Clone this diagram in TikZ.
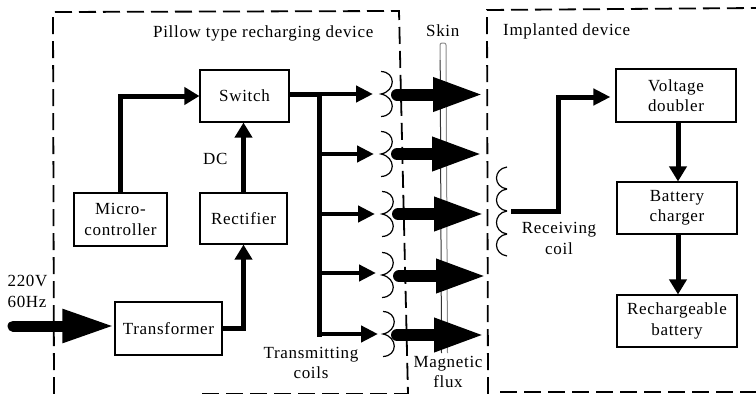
\documentclass[tikz,border=0pt]{standalone}
\usepackage{fontspec}
\setmainfont[LetterSpace=4]{Liberation Serif}
\usetikzlibrary{arrows.meta,calc}
\tikzset{
  x=1pt,y=-1pt,
  every node/.style={font=\fontsize{17}{20.5}\selectfont,inner sep=0pt,align=center},
  block/.style={draw=black,line width=1.1pt},
  small arrow/.style={line width=4.5pt,-{Triangle[length=17pt,width=16pt]}},
  big arrow/.style={line width=12pt,line cap=round,-{Triangle[length=51pt,width=31pt]}},
  feed/.style={line width=5pt,line join=miter},
  feed arrow/.style={feed,-{Triangle[length=15pt,width=17pt]}},
  coil/.style={line width=1.2pt},
  boundary/.style={line width=1.8pt,dash pattern=on 17pt off 7pt},
}
\begin{document}
\begin{tikzpicture}
\useasboundingbox (0,0) rectangle (756,394);
\fill[white] (0,0) rectangle (756,394);
\clip (0,0) rectangle (756,394);

% skin
\draw[line width=1pt,black!45,rounded corners=2pt] (447.5,353) -- (446,43) -- (440,43) -- (440.2,60);
\draw[line width=1pt,black!80] (440.2,60) -- (441.5,353);

% dashed boundaries
\draw[boundary] (54,394) -- (53,12) -- (399,11) -- (408,394);
\draw[boundary] (202,393.5) -- (408,393.5);
\draw[boundary] (488,394) -- (487,10) -- (756,8);
\draw[boundary] (500,392) -- (756,392);

% blocks
\node[block,minimum width=89pt,minimum height=52pt] (switch) at (244.5,96) {Switch};
\node[block,minimum width=87pt,minimum height=51pt] (rect) at (243.5,218.5) {Rectifier};
\node[block,minimum width=93pt,minimum height=53pt] (micro) at (120.5,219.5) {Micro-\\controller};
\node[block,minimum width=107pt,minimum height=53pt] (trans) at (168.5,328.5) {Transformer};
\node[block,minimum width=120pt,minimum height=53pt] (volt) at (676,95.5) {Voltage\\doubler};
\node[block,minimum width=120pt,minimum height=52pt] (batt) at (677,208) {Battery\\charger};
\node[block,minimum width=120pt,minimum height=52pt] (rech) at (677,321) {Rechargeable\\battery};

% labels
\node[anchor=base west] (l1) at (153,37) {Pillow type recharging device};
\node[anchor=base west] (l2) at (426,36) {Skin};
\node[anchor=base west] (l3) at (503,35) {Implanted device};
\node[anchor=base west] (l4) at (203,164) {DC};
\node[align=left] (l5) at (27.5,291.5) {220V\\60Hz};
\node (l6) at (311,363) {Transmitting\\coils};
\node (l7) at (448,372) {Magnetic\\flux};
\node (l8) at (559,238.5) {Receiving\\coil};

% coils
\foreach \n/\x/\y in {1/381/94,2/381/154,3/382/214,4/382/275,5/383/334}{
  \coordinate (c\n) at (\x,\y);
  \draw[coil] (\x,\y-22.5) .. controls (\x+15,\y-22) and (\x+15,\y-3) .. (c\n)
              .. controls (\x+15,\y+3) and (\x+15,\y+22) .. (\x,\y+22.5);
}
\coordinate (r0) at (507,167);
\coordinate (r1) at (507,189);
\coordinate (r2) at (507,211);
\coordinate (r3) at (507,234);
\coordinate (r4) at (507,256);
\foreach \a/\b in {r0/r1,r1/r2,r2/r3,r3/r4}{
  \draw[coil] (\a) .. controls ($(\a)+(-14,2)$) and ($(\b)+(-14,-2)$) .. (\b);
}

% power path
\coordinate (in) at (13,326);
\draw[line width=11pt,line cap=round,-{Triangle[length=52pt,width=31pt]}] (in) -- (trans.west |- in);
\draw[feed arrow] (trans.east) -| (rect.south);
\draw[feed arrow] (rect.north) -- (switch.south -| rect.north);
\draw[feed arrow] (micro.north) |- (switch.west);

% distribution
\coordinate (bus) at (319.5,94);
\draw[feed] (switch.east |- bus) -- (bus);
\coordinate (a1) at (373,94);
\coordinate (a2) at (374,154);
\coordinate (a3) at (375,214);
\coordinate (a4) at (376,273);
\coordinate (a5) at (378,334);
\draw[feed,line cap=rect] (bus) -- (bus |- a5);
\foreach \n in {1,2,3,4,5}{
  \draw[small arrow] (bus |- a\n) -- (a\n);
}

% flux
\foreach \n/\y/\s/\t in {1/94.5/397/484,2/154/397/483,3/214/398/485,4/276/399/487,5/335/397/485}{
  \coordinate (s\n) at (\s,\y);
  \coordinate (t\n) at (\t,\y);
  \draw[big arrow] (s\n) -- (t\n);
}

% implant
\coordinate (rx) at (511,211);
\coordinate (bend) at (558.5,97);
\coordinate (vin) at ($(volt.west)+(-5,1.5)$);
\draw[feed,-{Triangle[length=17pt,width=16pt]}] (rx) -| (bend) -- (vin);
\draw[feed arrow] ($(volt.south)+(2,0)$) -- ($(batt.north)+(1,0)$);
\draw[feed arrow] ($(batt.south)+(1,0)$) -- ($(rech.north)+(1,0)$);
\end{tikzpicture}
\end{document}
